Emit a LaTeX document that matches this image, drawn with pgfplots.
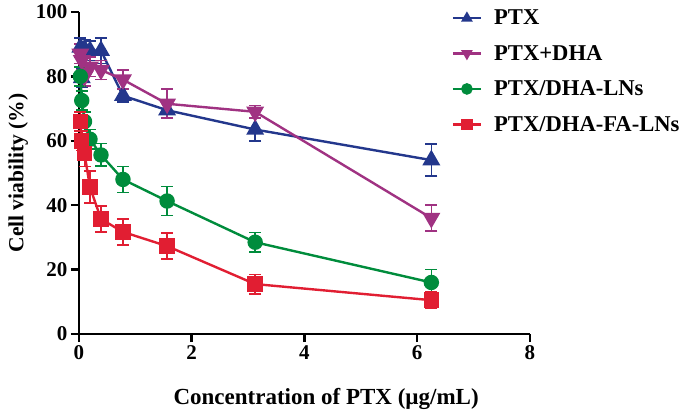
\documentclass[border=0pt]{standalone}
\usepackage{pgfplots}
\pgfplotsset{compat=1.18}
\usepackage{fontspec}
\setmainfont{Liberation Serif}
\definecolor{cblue}{RGB}{35,55,140}
\definecolor{cpurple}{RGB}{160,50,130}
\definecolor{cgreen}{RGB}{0,140,60}
\definecolor{cred}{RGB}{225,30,50}
\begin{document}
\begin{tikzpicture}
\begin{axis}[
  name=ax,
  scale only axis,
  width=451pt, height=322pt,
  xmin=0, xmax=8, ymin=0, ymax=100,
  xtick={0,2,4,6,8}, ytick={0,20,40,60,80,100},
  axis lines=left,
  axis line style={line width=2.5pt,-},
  every tick/.style={black,line width=2.5pt},
  tick align=outside, major tick length=8pt,
  tick label style={font=\fontsize{21}{23}\selectfont\bfseries},
  /pgf/number format/assume math mode=true,
  xlabel={Concentration of PTX (µg/mL)},
  ylabel={Cell viability (\%)},
  xlabel style={font=\fontsize{23}{25}\selectfont\bfseries, at={(ticklabel cs:0.548)}, yshift=-22pt},
  ylabel style={font=\fontsize{21.5}{24}\selectfont\bfseries, yshift=1pt},
  clip=false,
  legend style={draw=none, fill=none, at={(rel axis cs:0.826,1.013)}, anchor=north west,
    font=\fontsize{22.6}{24}\selectfont\bfseries, row sep=15pt, inner sep=0pt},
  legend cell align=left,
  legend image code/.code={\draw[#1,line width=2.4pt,mark=none] (0pt,0pt) -- (28pt,0pt);
    \draw[#1,line width=2pt,mark size=4.8pt,only marks] plot coordinates {(14pt,0pt)};
    \path (38pt,0pt);},
  every axis plot/.append style={line width=2.4pt},
  error bars/y dir=both, error bars/y explicit,
  error bars/error mark options={rotate=90, mark size=6pt, line width=1.6pt},
  error bars/error bar style={line width=1.6pt},
]
\addplot[cblue, mark=triangle*, mark size=8pt] table[x=x,y=y,y error=e] {
x y e
0.024 89 3
0.049 79.5 3
0.098 88.5 3
0.195 88 3
0.39 88 4
0.78 74 2
1.5625 69.5 2.5
3.125 63.5 3.5
6.25 54 5
};
\addlegendentry{PTX}
\addplot[cpurple, mark=triangle*, mark options={rotate=180}, mark size=8pt] table[x=x,y=y,y error=e] {
x y e
0.024 87 3
0.049 85 3
0.098 80 3
0.195 83 3
0.39 82 3
0.78 79 3
1.5625 71.5 4.5
3.125 69 2
6.25 36 4
};
\addlegendentry{PTX+DHA}
\addplot[cgreen, mark=*, mark size=6.5pt] table[x=x,y=y,y error=e] {
x y e
0.024 80 3
0.049 72.5 3
0.098 66 3
0.195 60.5 3
0.39 55.6 3.5
0.78 48 4
1.5625 41.3 4.5
3.125 28.5 3
6.25 16 4
};
\addlegendentry{PTX/DHA-LNs}
\addplot[cred, mark=square*, mark size=6.5pt] table[x=x,y=y,y error=e] {
x y e
0.024 66 3
0.049 60 3
0.098 56 4
0.195 45.6 5
0.39 35.7 4
0.78 31.7 4
1.5625 27.3 4
3.125 15.5 3
6.25 10.5 2.5
};
\addlegendentry{PTX/DHA-FA-LNs}
\end{axis}
\pgfresetboundingbox
\path (ax.south west) ++(-79pt,-79pt) rectangle ++(683pt,413pt);
\end{tikzpicture}
\end{document}
